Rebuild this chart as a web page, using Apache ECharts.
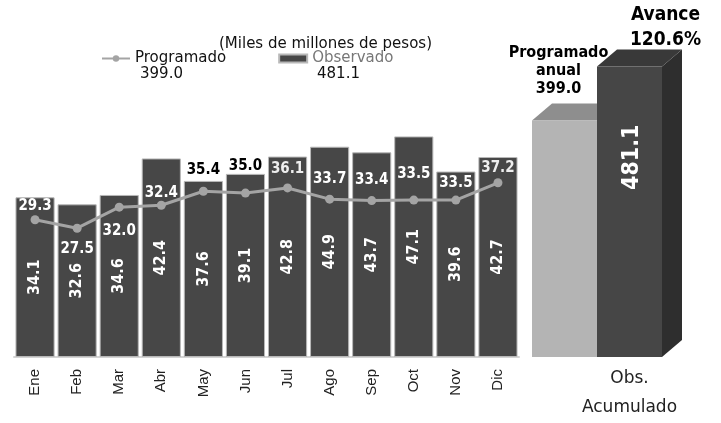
<!DOCTYPE html>
<html>
<head>
<meta charset="utf-8">
<script src="https://cdn.jsdelivr.net/npm/echarts@6/dist/echarts.min.js"></script>
<style>
  html, body { margin: 0; padding: 0; background: #fff; }
  #main { width: 721px; height: 423px; }
</style>
</head>
<body>
<div id="main"></div>
<script>
  // datos mensuales (miles de millones de pesos)
  var months = ['Ene', 'Feb', 'Mar', 'Abr', 'May', 'Jun', 'Jul', 'Ago', 'Sep', 'Oct', 'Nov', 'Dic'];
  var programado = [29.3, 27.5, 32.0, 32.4, 35.4, 35.0, 36.1, 33.7, 33.4, 33.5, 33.5, 37.2];
  var observado = [34.1, 32.6, 34.6, 42.4, 37.6, 39.1, 42.8, 44.9, 43.7, 47.1, 39.6, 42.7];
  // acumulado anual
  var acumCategories = ['Programado\nanual', 'Obs.\nAcumulado'];
  var acumValues = [399.0, 481.1];
  var avance = 120.6;

  // donde va la etiqueta de Programado respecto al punto (solo estilo)
  var progLabelPos = ['top', 'bottom', 'bottom', 'top', 'top', 'top', 'top', 'top', 'top', 'top', 'top', 'top'];
  var progLabelDist = [2, 9, 12, 0, 9, 15, 7, 8, 8, 14, 5, 3];
  var progLabelColor = ['#fff', '#fff', '#fff', '#fff', '#000', '#000', '#eee', '#fff', '#fff', '#fff', '#fff', '#eee'];

  var numFont = 'DejaVu Sans Condensed';
  var textFont = 'DejaVu Sans';

  var chart = echarts.init(document.getElementById('main'));

  function render3dBar(params, api) {
    var idx = api.value(0);
    var val = api.value(1);
    var top = api.coord([idx, val]);
    var base = api.coord([idx, 40]);
    var w = api.size([1, 0])[0];
    var x0 = top[0] - w / 2, x1 = top[0] + w / 2;
    var dx = 20, dy = -17;
    var yt = top[1], yb = base[1];
    var light = idx === 0;
    var children = [
      {
        type: 'polygon',
        shape: { points: [[x1, yt], [x1 + dx, yt + dy], [x1 + dx, yb + dy], [x1, yb]] },
        style: { fill: light ? '#8a8a8a' : '#2e2e2e' }
      },
      {
        type: 'polygon',
        shape: { points: [[x0, yt], [x0 + dx, yt + dy], [x1 + dx, yt + dy], [x1, yt]] },
        style: { fill: light ? '#8e8e8e' : '#393939' }
      },
      {
        type: 'rect',
        shape: { x: x0, y: yt, width: w, height: yb - yt },
        style: { fill: light ? '#b4b4b4' : '#464646' }
      }
    ];
    if (light) {
      children.push({
        type: 'text',
        x: top[0] - 6, y: yt + dy - 6,
        style: {
          text: acumCategories[0] + '\n' + val.toFixed(1),
          align: 'center', verticalAlign: 'bottom',
          font: 'bold 16px ' + numFont, lineHeight: 18, fill: '#000'
        }
      });
    } else {
      children.push({
        type: 'text',
        x: top[0] + 3, y: yt + 58,
        rotation: Math.PI / 2,
        style: {
          text: val.toFixed(1), align: 'right', verticalAlign: 'middle',
          font: 'bold 23px ' + numFont, fill: '#fff'
        }
      });
      children.push({
        type: 'text',
        x: top[0] + 36, y: yt + dy + 3,
        style: {
          text: 'Avance\n' + avance.toFixed(1) + '%',
          align: 'center', verticalAlign: 'bottom',
          font: 'bold 19px ' + numFont, lineHeight: 25, fill: '#000'
        }
      });
    }
    return { type: 'group', children: children };
  }

  chart.setOption({
    animation: false,
    title: {
      text: '(Miles de millones de pesos)',
      left: 214,
      top: 32,
      textStyle: { fontSize: 15, fontWeight: 'normal', fontFamily: textFont, color: '#111' }
    },
    legend: {
      left: 96,
      top: 46,
      itemGap: 52,
      itemWidth: 28,
      itemHeight: 8,
      textStyle: { fontSize: 15, fontFamily: textFont, color: '#111' },
      data: [
        { name: 'Programado' },
        { name: 'Observado', icon: 'rect', textStyle: { color: '#777' } }
      ]
    },
    graphic: [
      {
        type: 'text', left: 140, top: 67,
        style: { text: acumValues[0].toFixed(1), font: '15px ' + textFont, fill: '#111' }
      },
      {
        type: 'text', left: 317, top: 67,
        style: { text: acumValues[1].toFixed(1), font: '15px ' + textFont, fill: '#111' }
      }
    ],
    grid: [
      { left: 14, width: 505, top: 76, bottom: 66 },
      { left: 532, width: 130, top: 6, bottom: 66 }
    ],
    xAxis: [
      {
        type: 'category',
        gridIndex: 0,
        data: months,
        axisTick: { show: false },
        axisLine: { show: true, lineStyle: { color: '#d4d4d4', width: 2 } },
        axisLabel: { rotate: 90, margin: 12, fontSize: 15, fontFamily: 'Liberation Sans', color: '#222' }
      },
      {
        type: 'category',
        gridIndex: 1,
        data: acumCategories,
        axisTick: { show: false },
        axisLine: { show: false },
        axisLabel: {
          interval: 0,
          margin: 7, fontSize: 17, lineHeight: 29, fontFamily: textFont, color: '#222',
          formatter: function (v, i) { return i === 1 ? v : ''; }
        }
      }
    ],
    yAxis: [
      { type: 'value', gridIndex: 0, min: 0, max: 60, show: false },
      { type: 'value', gridIndex: 1, min: 40, max: 573, show: false }
    ],
    series: [
      {
        name: 'Observado',
        type: 'bar',
        xAxisIndex: 0,
        yAxisIndex: 0,
        data: observado,
        barCategoryGap: '7%',
        itemStyle: { color: '#474747', borderColor: '#b8b8b8', borderWidth: 1 },
        label: {
          show: true,
          position: 'inside',
          rotate: 90,
          color: '#fff',
          fontFamily: numFont,
          fontWeight: 'bold',
          fontSize: 16,
          formatter: function (p) { return p.value.toFixed(1); }
        }
      },
      {
        name: 'Programado',
        type: 'line',
        xAxisIndex: 0,
        yAxisIndex: 0,
        z: 5,
        symbol: 'circle',
        symbolSize: 9,
        lineStyle: { color: '#a4a4a4', width: 3 },
        itemStyle: { color: '#a4a4a4' },
        data: programado.map(function (v, i) {
          return {
            value: v,
            label: { position: progLabelPos[i], distance: progLabelDist[i], color: progLabelColor[i] }
          };
        }),
        label: {
          show: true,
          fontFamily: numFont,
          fontWeight: 'bold',
          fontSize: 15,
          formatter: function (p) { return p.value.toFixed(1); }
        }
      },
      {
        name: 'Acumulado',
        type: 'custom',
        xAxisIndex: 1,
        yAxisIndex: 1,
        renderItem: render3dBar,
        data: acumValues.map(function (v, i) { return [i, v]; })
      }
    ]
  });
</script>
</body>
</html>
